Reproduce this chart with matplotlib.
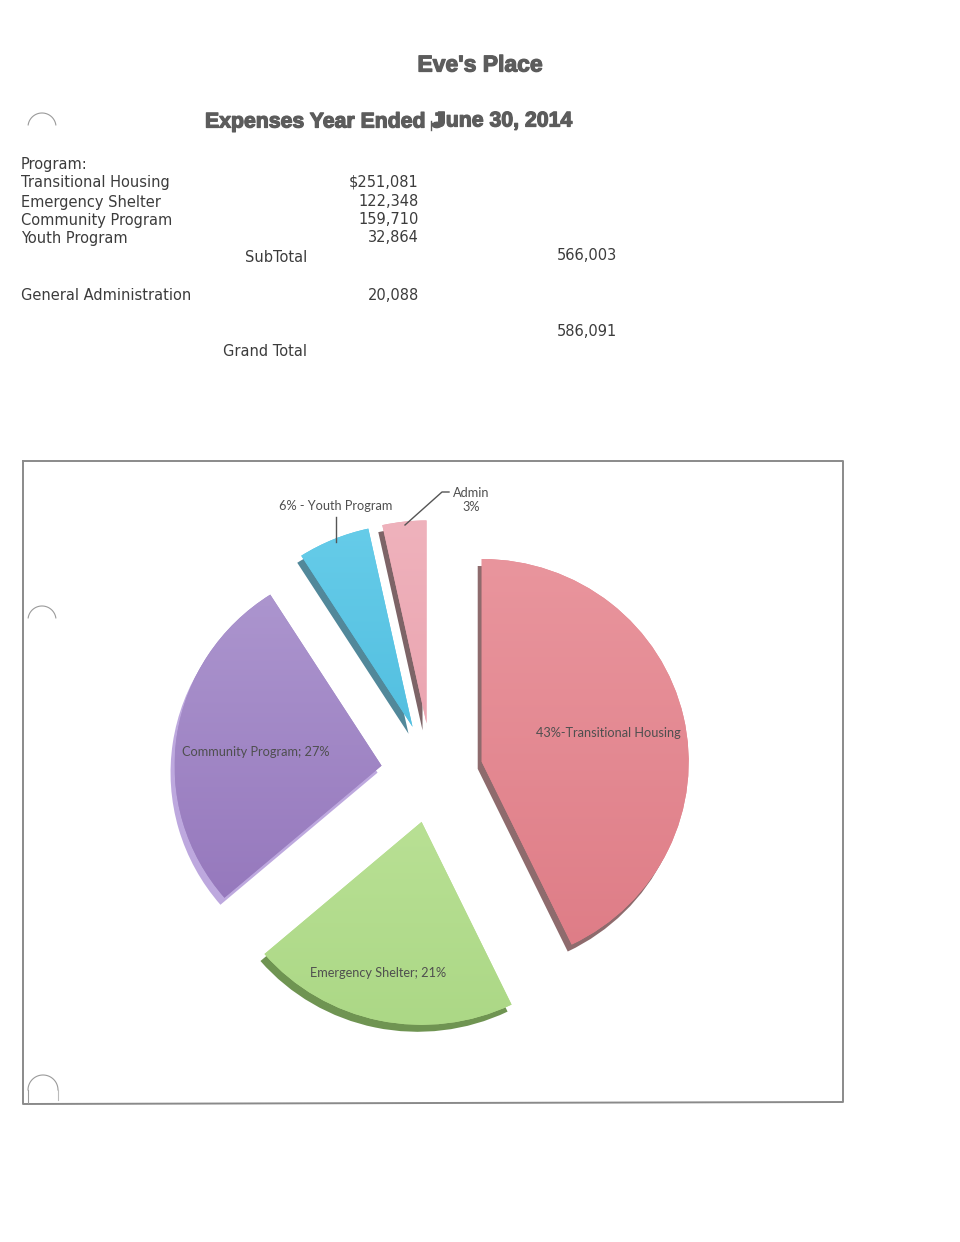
import numpy as np
import matplotlib.pyplot as plt
import matplotlib.patheffects as pe
from matplotlib.colors import LinearSegmentedColormap

# --- data ---
programs = ['Transitional Housing', 'Emergency Shelter', 'Community Program', 'Youth Program']
program_amounts = [251081, 122348, 159710, 32864]
admin_label = 'General Administration'
admin_amount = 20088
subtotal = 566003
grand_total = 586091

slice_names = ['Transitional Housing', 'Emergency Shelter', 'Community Program', 'Youth Program', 'Admin']
slice_values = program_amounts + [admin_amount]
slice_labels = ['43%-Transitional Housing', 'Emergency Shelter; 21%', 'Community Program; 27%',
                '6% - Youth Program', 'Admin\n3%']
slice_colors = ['#E3868F', '#B9DE90', '#A289C6', '#55C3E4', '#ECA6B1']
top_colors = ['#E9959D', '#C5E8A2', '#AE98D0', '#66CCE9', '#EFB2BC']
bottom_colors = ['#DE7C86', '#ACD886', '#9172B9', '#40B3D8', '#E799A6']
depth_colors = ['#8E6B6D', '#6F9452', '#BDA8DE', '#52889A', '#7D6467']

W, H = 960, 1242
fig = plt.figure(figsize=(W / 100, H / 100), dpi=100)
fig.patch.set_facecolor('white')

# --- pie, drawn in an axes matching the frame ---
sq = 0.98   # slight vertical squash seen in the scan
fx0, fy0, fx1, fy1 = 22, 460, 843, 1103
pax = fig.add_axes([fx0 / W, (H - fy1) / H, (fx1 - fx0) / W, (fy1 - fy0) / H])
pax.set_zorder(1)
cx_pix, cy_pix = 432, 773
center = (cx_pix - fx0, (fy1 - cy_pix) / sq)
radius = 207
explode = [51] * 5   # pie() takes the offset in data units

pax.pie(slice_values, colors=depth_colors, startangle=90, counterclock=False,
        explode=explode, radius=radius, center=(center[0] - 4, center[1] - 7 / sq),
        wedgeprops=dict(linewidth=0))
wedges, _ = pax.pie(slice_values, colors=slice_colors, startangle=90, counterclock=False,
                    explode=explode, radius=radius, center=center,
                    wedgeprops=dict(linewidth=0))

# soft top-to-bottom shading inside each slice
grad = np.linspace(0, 1, 256).reshape(-1, 1)
for w, c_top, c_bot in zip(wedges, top_colors, bottom_colors):
    cm = LinearSegmentedColormap.from_list('g', [c_top, c_bot])
    wx, wy = w.center
    im = pax.imshow(grad, cmap=cm, aspect='auto', interpolation='bilinear', zorder=3,
                    extent=(wx - w.r, wx + w.r, wy - w.r, wy + w.r), origin='upper')
    im.set_clip_path(w)

pax.set_xlim(0, fx1 - fx0)
pax.set_ylim(0, (fy1 - fy0) / sq)
pax.set_aspect('auto')
pax.axis('off')

# overlay axes in pixel units (y down) for the document text
bg = fig.add_axes([0, 0, 1, 1])
bg.set_zorder(2)
bg.set_xlim(0, W)
bg.set_ylim(H, 0)
bg.axis('off')

txt = '#3c3c3c'
head = '#5c5c5c'
heavy = [pe.withStroke(linewidth=0.9, foreground=head)]
bg.text(480, 65, "Eve's Place", family='Liberation Sans', weight='bold', fontsize=16.5,
        color=head, ha='center', va='center', path_effects=heavy)
bg.text(205, 122, 'Expenses Year Ended J', family='Liberation Sans', weight='bold', fontsize=15.3,
        color=head, ha='left', va='center', path_effects=heavy)
bg.plot([431, 431], [121, 130], color=head, lw=1)
bg.text(434, 121, 'June 30, 2014', family='Liberation Sans', weight='bold', fontsize=15.3,
        color=head, ha='left', va='center', path_effects=heavy)

fs = 10.5
bg.text(21, 164, 'Program:', fontsize=fs, color=txt, va='center')
row_y = [183, 202, 220, 239]
for name, amt, y in zip(programs, program_amounts, row_y):
    s = f'{amt:,}'
    if name == programs[0]:
        s = '$' + s
    bg.text(21, y, name, fontsize=fs, color=txt, va='center')
    bg.text(419, y - 1, s, fontsize=fs, color=txt, va='center', ha='right')
bg.text(307, 257, 'SubTotal', fontsize=fs, color=txt, va='center', ha='right')
bg.text(617, 256, f'{subtotal:,}', fontsize=fs, color=txt, va='center', ha='right')
bg.text(21, 296, admin_label, fontsize=fs, color=txt, va='center')
bg.text(419, 295, f'{admin_amount:,}', fontsize=fs, color=txt, va='center', ha='right')
bg.text(617, 331, f'{grand_total:,}', fontsize=fs, color=txt, va='center', ha='right')
bg.text(307, 352, 'Grand Total', fontsize=fs, color=txt, va='center', ha='right')

# chart frame
bg.plot([23, 843, 843, 23, 23], [461, 461, 1102, 1104, 461], color='#8a8a8a', lw=1.4)

# punch-hole marks from the scan
t = np.linspace(0.15, np.pi - 0.15, 40)
for cx, cy in [(42, 127), (42, 620)]:
    bg.plot(cx + 14 * np.cos(t), cy - 14 * np.sin(t), color='#9a9a9a', lw=0.8)
t = np.linspace(0, np.pi, 40)
bg.plot(43 + 15 * np.cos(t), 1090 - 15 * np.sin(t), color='#9a9a9a', lw=0.8)
bg.plot([28, 28], [1090, 1103], color='#9a9a9a', lw=0.8)
bg.plot([58, 58], [1090, 1100], color='#bbbbbb', lw=0.8)

# slice labels (pixel positions on the page)
lab = dict(family=['Lato', 'DejaVu Sans'], fontsize=9.2, color='#4f4f4f', va='center')
bg.text(608, 733, slice_labels[0], ha='center', **lab)
bg.text(378, 973, slice_labels[1], ha='center', **lab)
bg.text(256, 752, slice_labels[2], ha='center', **lab)
bg.text(336, 506, slice_labels[3], ha='center', **lab)
bg.text(471, 500, slice_labels[4], ha='center', linespacing=1.25, **lab)
bg.plot([336, 336], [517, 542], color='#555555', lw=1)
bg.plot([449, 442, 405], [492, 492, 525], color='#555555', lw=1)

fig.savefig('out.png', dpi=100, facecolor='white')
